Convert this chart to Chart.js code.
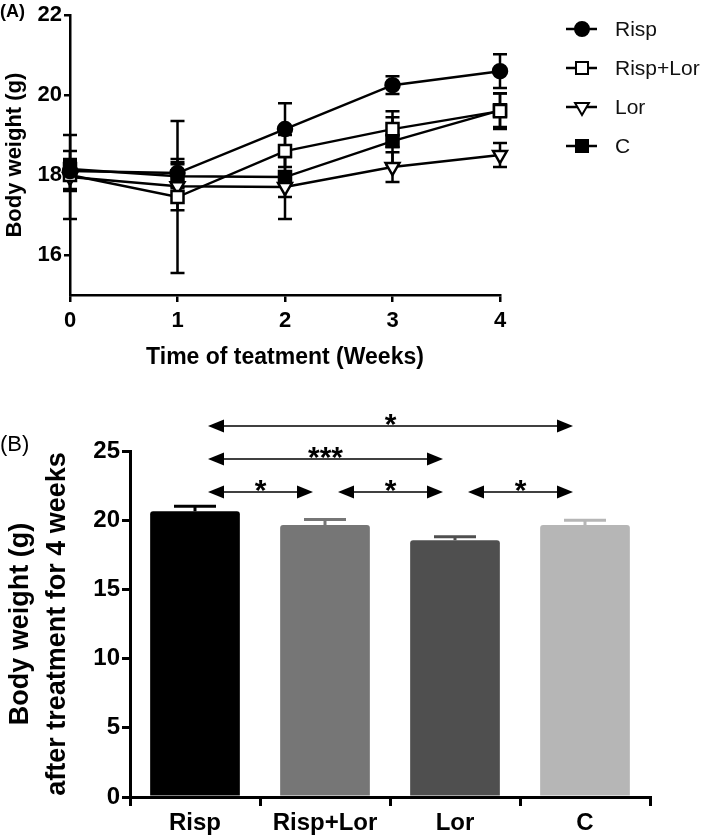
<!DOCTYPE html>
<html>
<head>
<meta charset="utf-8">
<script src="https://cdn.jsdelivr.net/npm/chart.js@4"></script>
<style>
  body { margin: 0; background: #fff; }
  #wrap { position: relative; width: 709px; height: 838px; }
  canvas { position: absolute; left: 0; }
  #chartA { top: 0; }
  #chartB { top: 380px; }
  .tag { position: absolute; font-family: Arial, "Liberation Sans", sans-serif; color: #000; line-height: 1; }
</style>
</head>
<body>
<div id="wrap">
  <canvas id="chartA" width="709" height="375"></canvas>
  <canvas id="chartB" width="709" height="458"></canvas>
  <div class="tag" style="left:0;top:2px;font-weight:bold;font-size:18px">(A)</div>
  <div class="tag" style="left:0;top:433px;font-size:22px">(B)</div>
</div>
<script>
// body weight over 4 weeks (panel A) and at week 4 (panel B)
const weeks = [0, 1, 2, 3, 4];
const groups = ["Risp", "Risp+Lor", "Lor", "C"];

const rispMean = [18.1, 18.05, 19.15, 20.25, 20.6];
const rispErr = [0.5, 0.35, 0.65, 0.22, 0.42];
const rispLorMean = [18.0, 17.45, 18.6, 19.15, 19.6];
const rispLorErr = [0.35, 1.9, 0.4, 0.45, 0.45];
const lorMean = [17.95, 17.72, 17.7, 18.2, 18.5];
const lorErr = [1.05, 0.6, 0.8, 0.37, 0.3];
const ctrlMean = [18.15, 17.97, 17.95, 18.85, 19.62];
const ctrlErr = [0.25, 0.3, 0.5, 0.6, 0.42];

const yTicksA = [16, 18, 20, 22];

const week4Mean = [20.65, 19.65, 18.55, 19.65];
const week4Err = [0.35, 0.4, 0.25, 0.35];

// significance brackets: from group, to group, stars, row (0 = lowest)
const sigFrom = [0, 0, 0, 1, 2];
const sigTo = [3, 2, 1, 2, 3];
const sigStars = ["*", "***", "*", "*", "*"];
const sigRow = [2, 1, 0, 0, 0];

const FONT = "Arial, 'Liberation Sans', sans-serif";
const barColors = ["#000000", "#767676", "#4f4f4f", "#b6b6b6"];

// error bars for the line chart, drawn under the markers
const errorBarsA = {
  id: "errorBarsA",
  beforeDatasetsDraw(chart) {
    const { ctx, scales: { x, y } } = chart;
    ctx.save();
    ctx.strokeStyle = "#000";
    ctx.lineWidth = 2.5;
    chart.data.datasets.forEach((ds) => {
      ds.data.forEach((p, i) => {
        const e = ds.errors[i];
        const px = x.getPixelForValue(p.x);
        const top = y.getPixelForValue(p.y + e);
        const bot = y.getPixelForValue(p.y - e);
        ctx.beginPath();
        ctx.moveTo(px, top); ctx.lineTo(px, bot);
        ctx.moveTo(px - 7, top); ctx.lineTo(px + 7, top);
        ctx.moveTo(px - 7, bot); ctx.lineTo(px + 7, bot);
        ctx.stroke();
      });
    });
    ctx.restore();
  },
};

// legend with a line through each marker
const legendA = {
  id: "legendA",
  afterDraw(chart) {
    const ctx = chart.ctx;
    const x0 = chart.chartArea.right + 66;
    ctx.save();
    chart.data.datasets.forEach((ds, i) => {
      const yy = 29 + i * 39;
      ctx.strokeStyle = "#000";
      ctx.lineWidth = 2.5;
      ctx.beginPath();
      ctx.moveTo(x0, yy); ctx.lineTo(x0 + 31, yy);
      ctx.stroke();
      ctx.fillStyle = ds.pointBackgroundColor;
      ctx.lineWidth = 2;
      Chart.helpers.drawPoint(ctx, {
        pointStyle: ds.pointStyle,
        radius: ds.pointRadius,
        rotation: ds.pointRotation || 0,
        borderWidth: 2,
      }, x0 + 16, yy);
      ctx.fillStyle = "#111";
      ctx.font = "21px " + FONT;
      ctx.textBaseline = "middle";
      ctx.fillText(ds.label, x0 + 49, yy + 1);
    });
    ctx.restore();
  },
};

function lineSet(label, data, errors, style, fill, radius, rotation) {
  return {
    label, data: data.map((v, i) => ({ x: weeks[i], y: v })), errors,
    borderColor: "#000", borderWidth: 2.5, clip: false,
    pointStyle: style, pointRadius: radius, pointRotation: rotation || 0,
    pointBackgroundColor: fill, pointBorderColor: "#000", pointBorderWidth: 2.5,
  };
}

new Chart(document.getElementById("chartA"), {
  type: "line",
  data: {
    datasets: [
      lineSet("Risp", rispMean, rispErr, "circle", "#000", 7),
      lineSet("Risp+Lor", rispLorMean, rispLorErr, "rect", "#fff", 8.5),
      lineSet("Lor", lorMean, lorErr, "triangle", "#fff", 8, 180),
      lineSet("C", ctrlMean, ctrlErr, "rect", "#000", 8.5),
    ],
  },
  options: {
    responsive: false,
    animation: false,
    layout: { padding: { top: 10, right: 209, left: 0, bottom: 0 } },
    plugins: { legend: { display: false }, tooltip: { enabled: false } },
    scales: {
      x: {
        type: "linear", min: 0, max: 4,
        afterFit: (s) => { s.height = 80; },
        border: { color: "#000", width: 2.5 },
        grid: { drawOnChartArea: false, color: "#000", lineWidth: 2.5, tickLength: 7 },
        ticks: { stepSize: 1, color: "#000", padding: 6, font: { family: FONT, size: 22, weight: "bold" } },
        title: {
          display: true, text: "Time of teatment (Weeks)", color: "#000",
          padding: { top: 6 }, font: { family: FONT, size: 23, weight: "bold" },
        },
      },
      y: {
        min: 15, max: 22,
        afterBuildTicks: (s) => { s.ticks = yTicksA.map((v) => ({ value: v })); },
        afterFit: (s) => { s.width = 70; },
        border: { color: "#000", width: 2.5 },
        grid: { drawOnChartArea: false, color: "#000", lineWidth: 2.5, tickLength: 6 },
        ticks: { color: "#000", padding: 2, font: { family: FONT, size: 22, weight: "bold" } },
        title: {
          display: true, text: "Body weight (g)", color: "#000",
          padding: { top: 2, bottom: 0 }, font: { family: FONT, size: 22, weight: "bold" },
        },
      },
    },
  },
  plugins: [errorBarsA, legendA],
});

// upward error bars on the week 4 bars
const errorBarsB = {
  id: "errorBarsB",
  beforeDatasetsDraw(chart) {
    const { ctx, scales: { x, y } } = chart;
    const ds = chart.data.datasets[0];
    ctx.save();
    ctx.lineWidth = 3;
    ds.data.forEach((v, i) => {
      const px = x.getPixelForValue(i);
      const top = y.getPixelForValue(v + ds.errors[i]);
      ctx.strokeStyle = barColors[i];
      ctx.beginPath();
      ctx.moveTo(px, y.getPixelForValue(v)); ctx.lineTo(px, top);
      ctx.moveTo(px - 21, top); ctx.lineTo(px + 21, top);
      ctx.stroke();
    });
    ctx.restore();
  },
};

function arrowHead(ctx, tipX, y, dir) {
  ctx.beginPath();
  ctx.moveTo(tipX, y);
  ctx.lineTo(tipX - dir * 16, y - 6.5);
  ctx.lineTo(tipX - dir * 16, y + 6.5);
  ctx.closePath();
  ctx.fill();
}

const significance = {
  id: "significance",
  afterDraw(chart) {
    const { ctx, chartArea, scales: { x } } = chart;
    ctx.save();
    ctx.strokeStyle = "#000";
    ctx.fillStyle = "#000";
    ctx.lineWidth = 1.5;
    sigFrom.forEach((from, k) => {
      const y = chartArea.top + 41 - sigRow[k] * 33;
      const x1 = x.getPixelForValue(from) + 13;
      const x2 = x.getPixelForValue(sigTo[k]) - 12;
      ctx.beginPath();
      ctx.moveTo(x1 + 10, y); ctx.lineTo(x2 - 10, y);
      ctx.stroke();
      arrowHead(ctx, x1, y, -1);
      arrowHead(ctx, x2, y, 1);
      ctx.font = "bold 30px " + FONT;
      ctx.textAlign = "center";
      ctx.textBaseline = "alphabetic";
      ctx.fillText(sigStars[k], (x1 + x2) / 2, y + 8);
    });
    ctx.restore();
  },
};

new Chart(document.getElementById("chartB"), {
  type: "bar",
  data: {
    labels: groups,
    datasets: [{
      data: week4Mean, errors: week4Err,
      backgroundColor: barColors,
      categoryPercentage: 1, barPercentage: 0.69,
      borderRadius: 3, borderSkipped: "bottom",
    }],
  },
  options: {
    responsive: false,
    animation: false,
    layout: { padding: { top: 71, right: 59, left: 0, bottom: 0 } },
    plugins: { legend: { display: false }, tooltip: { enabled: false } },
    scales: {
      x: {
        afterFit: (s) => { s.height = 41; },
        border: { color: "#000", width: 3 },
        grid: { drawOnChartArea: false, color: "#000", lineWidth: 3, tickLength: 9 },
        ticks: { color: "#000", padding: 3, font: { family: FONT, size: 24, weight: "bold" } },
      },
      y: {
        min: 0, max: 25,
        afterFit: (s) => { s.width = 130; },
        border: { color: "#000", width: 3 },
        grid: { drawOnChartArea: false, color: "#000", lineWidth: 3, tickLength: 8 },
        ticks: { stepSize: 5, color: "#000", padding: 2, font: { family: FONT, size: 24, weight: "bold" } },
        title: {
          display: true, text: ["Body weight (g)", "after treatment for 4 weeks"], color: "#000",
          padding: { top: 2, bottom: 0 }, font: { family: FONT, size: 27, weight: "bold", lineHeight: 1.37 },
        },
      },
    },
  },
  plugins: [errorBarsB, significance],
});
</script>
</body>
</html>
